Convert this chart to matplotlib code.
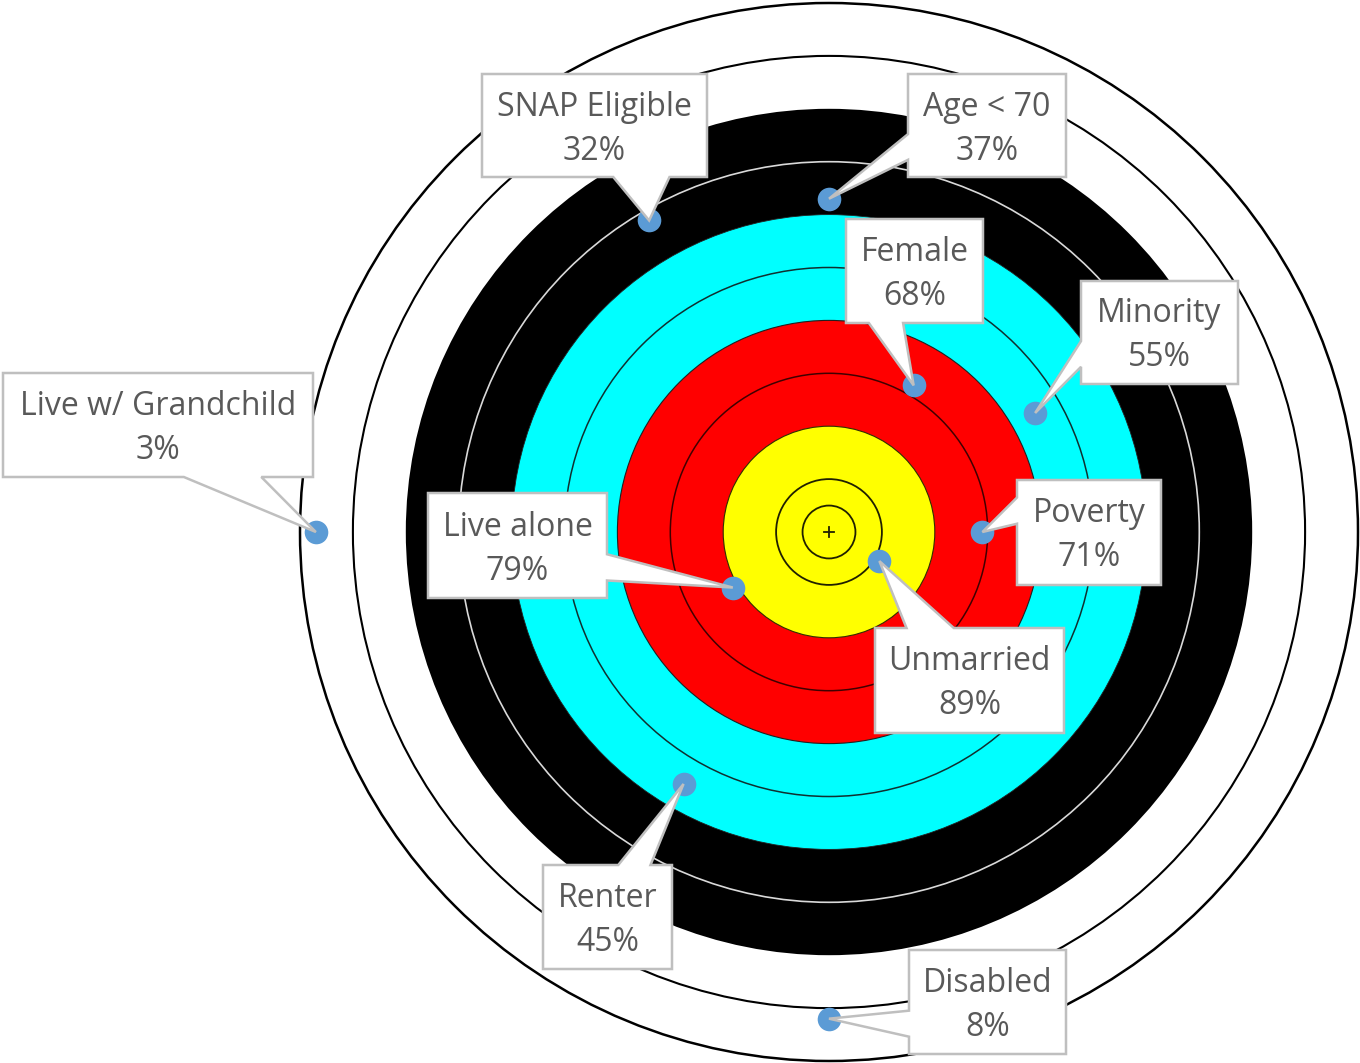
import matplotlib.pyplot as plt
from matplotlib.patches import Circle, Polygon
import numpy as np

# one slot every 30 degrees, counter-clockwise from 3 o'clock (blank slots unused)
categories = ["Poverty", "Minority", "Female", "Age < 70", "SNAP Eligible", "",
              "Live w/ Grandchild", "Live alone", "Renter", "Disabled", "", "Unmarried"]
values = [71, 55, 68, 37, 32, None, 3, 79, 45, 8, None, 89]

# callout boxes in picture pixels: left, top, right, bottom
boxes = {
    "Poverty": (1017, 480, 1161, 585),
    "Minority": (1081, 281, 1238, 384),
    "Female": (846, 219, 983, 323),
    "Age < 70": (908, 74, 1066, 177),
    "SNAP Eligible": (482, 74, 707, 177),
    "Live w/ Grandchild": (3, 373, 313, 477),
    "Live alone": (428, 493, 607, 598),
    "Renter": (543, 865, 672, 969),
    "Disabled": (909, 950, 1066, 1054),
    "Unmarried": (875, 628, 1064, 733),
}

W, H = 1360, 1063
CX, CY = 829, 532      # target centre in pixels
PX = 5.29              # pixels per unit (outer ring = 100)

def to_data(px, py):
    return (px - CX) / PX, (CY - py) / PX

fig = plt.figure(figsize=(W / 100, H / 100), dpi=100)
ax = fig.add_axes([0, 0, 1, 1])
ax.set_xlim(-CX / PX, (W - CX) / PX)
ax.set_ylim(-(H - CY) / PX, CY / PX)
ax.axis('off')

# target face
ax.add_patch(Circle((0, 0), 100, fc='white', ec='black', lw=1.8, zorder=1))
ax.add_patch(Circle((0, 0), 90, fc='none', ec='black', lw=1.5, zorder=1))
ax.add_patch(Circle((0, 0), 80, fc='black', ec='none', zorder=1))
ax.add_patch(Circle((0, 0), 70, fc='none', ec='#d9d9d9', lw=1.2, zorder=1))
ax.add_patch(Circle((0, 0), 60, fc='#00ffff', ec='#202020', lw=0.6, zorder=1))
ax.add_patch(Circle((0, 0), 50, fc='none', ec='#103030', lw=1.1, zorder=1))
ax.add_patch(Circle((0, 0), 40, fc='#ff0000', ec='#202020', lw=0.8, zorder=1))
ax.add_patch(Circle((0, 0), 30, fc='none', ec='#400000', lw=1.1, zorder=1))
ax.add_patch(Circle((0, 0), 20, fc='#ffff00', ec='#303000', lw=0.8, zorder=1))
ax.add_patch(Circle((0, 0), 10, fc='none', ec='#202000', lw=1.3, zorder=1))
ax.add_patch(Circle((0, 0), 5, fc='none', ec='#202000', lw=1.3, zorder=1))
ax.plot([-1, 1], [0, 0], color='#202000', lw=1.3, zorder=1)
ax.plot([0, 0], [-1, 1], color='#202000', lw=1.3, zorder=1)

# points: closer to the middle means a higher share
names, xs, ys = [], [], []
for i, (c, v) in enumerate(zip(categories, values)):
    if v is None:
        continue
    a = np.radians(i * 30)
    r = 100 - v
    names.append((c, v))
    xs.append(r * np.cos(a))
    ys.append(r * np.sin(a))
ax.plot(xs, ys, 'o', ms=17, color='#5b9bd5', mec='none', zorder=4)


def callout(box, tip):
    l, t, r, b = box
    x0, y1 = to_data(l, t)
    x1, y0 = to_data(r, b)
    cx, cy = (x0 + x1) / 2, (y0 + y1) / 2
    w, h = x1 - x0, y1 - y0
    tx, ty = tip
    dx, dy = (tx - cx) / w, (ty - cy) / h
    if abs(dx) > abs(dy):
        s = 1 if ty > cy else -1
        b1, b2 = sorted([cy + s * h / 12, cy + s * 4 * h / 12])
        if dx > 0:
            pts = [(x0, y0), (x1, y0), (x1, b1), tip, (x1, b2), (x1, y1), (x0, y1)]
        else:
            pts = [(x0, y0), (x1, y0), (x1, y1), (x0, y1), (x0, b2), tip, (x0, b1)]
    else:
        s = 1 if tx > cx else -1
        b1, b2 = sorted([cx + s * w / 12, cx + s * 4 * w / 12])
        if dy < 0:
            pts = [(x0, y0), (b1, y0), tip, (b2, y0), (x1, y0), (x1, y1), (x0, y1)]
        else:
            pts = [(x0, y0), (x1, y0), (x1, y1), (b2, y1), tip, (b1, y1), (x0, y1)]
    ax.add_patch(Polygon(pts, closed=True, fc='white', ec='#bfbfbf', lw=1.8,
                         joinstyle='miter', zorder=5))
    return cx, cy


for (c, v), x, y in zip(names, xs, ys):
    cx, cy = callout(boxes[c], (x, y))
    ax.text(cx, cy + 10 / PX, c, ha='center', va='baseline', fontsize=23,
            family='Open Sans', color='#595959', zorder=6)
    ax.text(cx, cy - 34 / PX, f"{v}%", ha='center', va='baseline', fontsize=23,
            family='Open Sans', color='#595959', zorder=6)

fig.savefig('out.png', dpi=100)
